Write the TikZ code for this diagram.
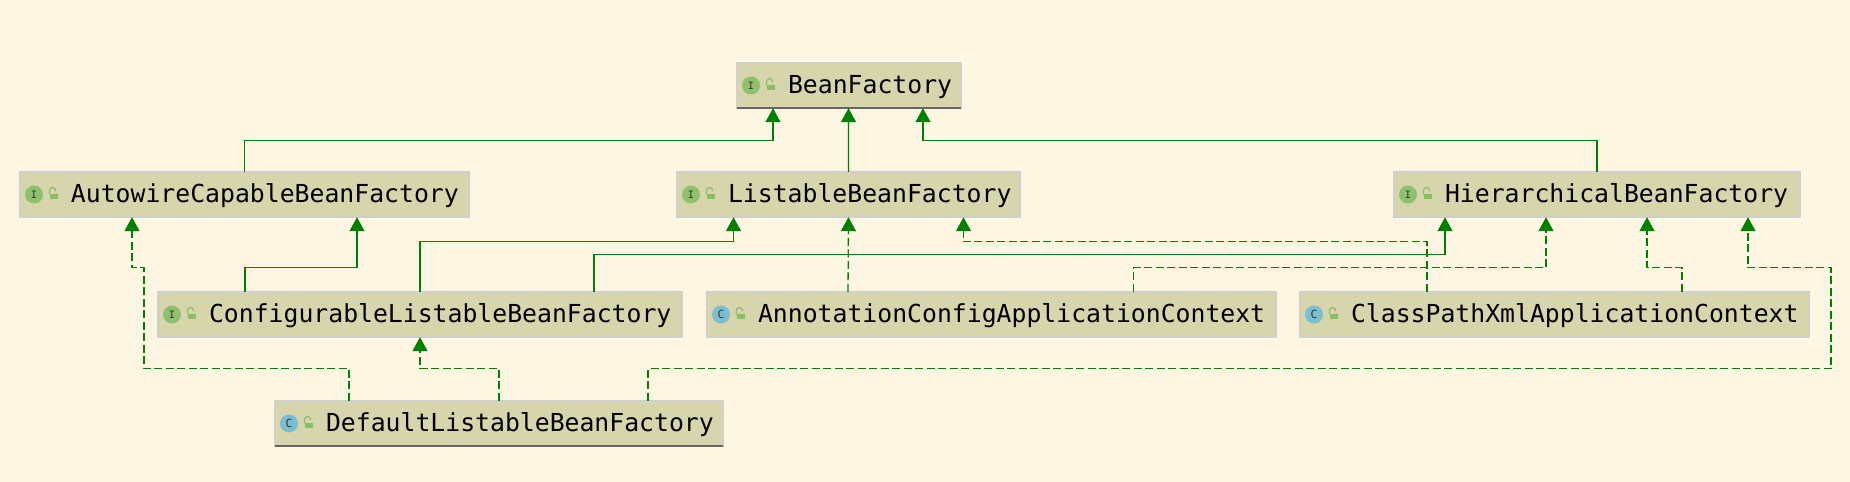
\documentclass[tikz,border=0pt]{standalone}
\usepackage{fontspec}
\setmainfont{DejaVu Sans Mono}
\usetikzlibrary{arrows.meta,calc}
\definecolor{paper}{HTML}{FDF6E3}
\definecolor{boxfill}{HTML}{D7D5AC}
\definecolor{boxline}{HTML}{CFCFCB}
\definecolor{edgegreen}{HTML}{008000}
\definecolor{ifacegreen}{HTML}{8FC06E}
\definecolor{classblue}{HTML}{7BBED0}
\definecolor{lockgreen}{HTML}{88BF66}

\begin{document}
\begin{tikzpicture}[
    classbox/.style={rectangle, draw=boxline, line width=0.018cm, fill=boxfill, outer sep=0pt, inner xsep=0pt,
        minimum height=0.45cm, text height=0.19cm, text depth=0.03cm, align=left,
        font=\fontsize{7.05pt}{8pt}\selectfont,
        execute at begin node=\hspace*{0.51cm}},
    ibadge/.style={circle, fill=ifacegreen, minimum size=0.18cm, inner sep=0pt, text=black!80,
        font=\fontsize{2.9pt}{3pt}\selectfont},
    cbadge/.style={circle, fill=classblue, minimum size=0.18cm, inner sep=0pt, text=black!80,
        font=\fontsize{3.2pt}{3pt}\selectfont},
    padlock/.pic={
        \fill[lockgreen] (0.003,-0.047) rectangle (0.08,0.007);
        \draw[lockgreen, line width=0.012cm] (-0.005,0) -- (-0.005,0.04) arc (180:0:0.03) -- ++(0,-0.008);
    },
    extends/.style={-{Triangle[width=0.15cm,length=0.14cm]}, edgegreen, line width=0.013cm},
    implements/.style={extends, dash pattern=on 0.08cm off 0.035cm},
    topline/.style={black!60, line width=0.016cm}
]
    % Page
    \fill[paper] (0,0) rectangle (18.5,4.82);
    \useasboundingbox (0,0) rectangle (18.5,4.82);

    % Interfaces
    \node[classbox, text width=2.24cm] (bean) at (8.49, 3.965) {BeanFactory};
    \node[classbox, text width=4.49cm] (auto) at (2.445, 2.875) {AutowireCapableBeanFactory};
    \node[classbox, text width=3.43cm] (list) at (8.485, 2.875) {ListableBeanFactory};
    \node[classbox, text width=4.06cm] (hier) at (15.97, 2.875) {HierarchicalBeanFactory};
    \node[classbox, text width=5.24cm] (conf) at (4.20, 1.675) {ConfigurableListableBeanFactory};

    % Classes
    \node[classbox, text width=5.69cm] (anno) at (9.915, 1.675) {AnnotationConfigApplicationContext};
    \node[classbox, text width=5.09cm] (path) at (15.545, 1.675) {ClassPathXmlApplicationContext};
    \node[classbox, text width=4.48cm] (dflt) at (4.99, 0.585) {DefaultListableBeanFactory};

    % Dark lower edges
    \draw[topline] (bean.south west) -- (bean.south east);
    \draw[topline] (dflt.south west) -- (dflt.south east);

    % Badges
    \node[ibadge] (beanbadge) at ([xshift=0.14cm]bean.west) {I};
    \node[ibadge] (autobadge) at ([xshift=0.14cm]auto.west) {I};
    \node[ibadge] (listbadge) at ([xshift=0.14cm]list.west) {I};
    \node[ibadge] (hierbadge) at ([xshift=0.14cm]hier.west) {I};
    \node[ibadge] (confbadge) at ([xshift=0.14cm]conf.west) {I};
    \node[cbadge] (annobadge) at ([xshift=0.14cm]anno.west) {C};
    \node[cbadge] (pathbadge) at ([xshift=0.14cm]path.west) {C};
    \node[cbadge] (dfltbadge) at ([xshift=0.14cm]dflt.west) {C};

    % Locks
    \pic at ([xshift=0.30cm]bean.west) {padlock};
    \pic at ([xshift=0.30cm]auto.west) {padlock};
    \pic at ([xshift=0.30cm]list.west) {padlock};
    \pic at ([xshift=0.30cm]hier.west) {padlock};
    \pic at ([xshift=0.30cm]conf.west) {padlock};
    \pic at ([xshift=0.30cm]anno.west) {padlock};
    \pic at ([xshift=0.30cm]path.west) {padlock};
    \pic at ([xshift=0.30cm]dflt.west) {padlock};

    % Solid arrows
    \draw[extends] (auto.north) -- ++(0,0.31) -| ([xshift=-0.76cm]bean.south);
    \draw[extends] (list.north) -- ([xshift=-0.05mm]bean.south);
    \draw[extends] (hier.north) -- ++(0,0.31) -| ([xshift=0.74cm]bean.south);
    \draw[extends] ([xshift=-1.75cm]conf.north) -- ++(0,0.24) -| ([xshift=1.125cm]auto.south);
    \draw[extends] (conf.north) -- ++(0,0.50) -| ([xshift=-1.15cm]list.south);
    \draw[extends] ([xshift=1.74cm]conf.north) -- ++(0,0.37) -| ([xshift=-1.52cm]hier.south);

    % Dashed arrows
    \draw[implements] ([xshift=-1.435cm]anno.north) -- (list.south);
    \draw[implements] ([xshift=1.42cm]anno.north) -- ++(0,0.24) -| ([xshift=-0.51cm]hier.south);
    \draw[implements] ([xshift=-1.275cm]path.north) -- ++(0,0.50) -| ([xshift=1.15cm]list.south);
    \draw[implements] ([xshift=1.275cm]path.north) -- ++(0,0.24) -| ([xshift=0.50cm]hier.south);
    \draw[implements] ([xshift=-1.50cm]dflt.north) -- ++(0,0.32) -- ++(-2.05,0) -- ++(0,1.01) -| ([xshift=-1.125cm]auto.south);
    \draw[implements] (dflt.north) -- ++(0,0.32) -| (conf.south);
    \draw[implements] ([xshift=1.49cm]dflt.north) -- ++(0,0.32) -- ++(11.83,0) -- ++(0,1.01) -| ([xshift=1.51cm]hier.south);
\end{tikzpicture}
\end{document}
